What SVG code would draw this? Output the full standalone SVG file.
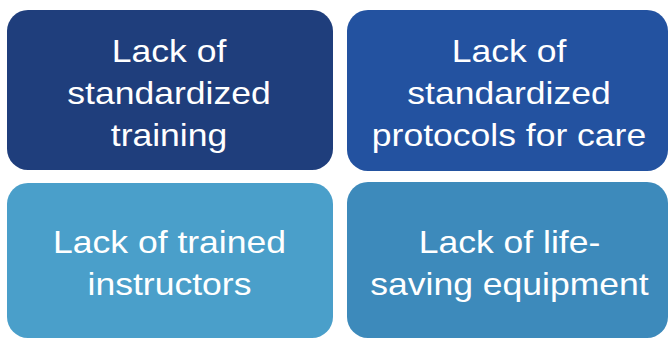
<svg xmlns="http://www.w3.org/2000/svg" width="669" height="339" viewBox="0 0 669 339">
<style>
.box{stroke:none}
.t{font-family:"Liberation Sans",Arial,sans-serif;font-size:32px;fill:#ffffff;text-anchor:middle}
</style>
<rect width="669" height="339" fill="#ffffff"/>
<g id="node-training">
<rect class="box" x="7" y="10" width="326" height="160" rx="21" fill="#1F3E7C"/>
<g transform="translate(169,0) scale(1.11,1)">
<text class="t" x="0" y="62">Lack of</text>
<text class="t" x="0" y="104">standardized</text>
<text class="t" x="0" y="146">training</text>
</g>
</g>
<g id="node-protocols">
<rect class="box" x="347" y="10" width="321" height="161" rx="21" fill="#2352A0"/>
<g transform="translate(509,0) scale(1.11,1)">
<text class="t" x="0" y="62">Lack of</text>
<text class="t" x="0" y="104">standardized</text>
<text class="t" x="0" y="146">protocols for care</text>
</g>
</g>
<g id="node-instructors">
<rect class="box" x="7" y="183" width="326" height="155" rx="21" fill="#4A9FCA"/>
<g transform="translate(169.5,0) scale(1.11,1)">
<text class="t" x="0" y="253">Lack of trained</text>
<text class="t" x="0" y="295">instructors</text>
</g>
</g>
<g id="node-equipment">
<rect class="box" x="347" y="182" width="321" height="156" rx="21" fill="#3D8ABB"/>
<g transform="translate(509.5,0) scale(1.11,1)">
<text class="t" x="0" y="253">Lack of life-</text>
<text class="t" x="0" y="295">saving equipment</text>
</g>
</g>
<g id="connectors"></g>
</svg>
